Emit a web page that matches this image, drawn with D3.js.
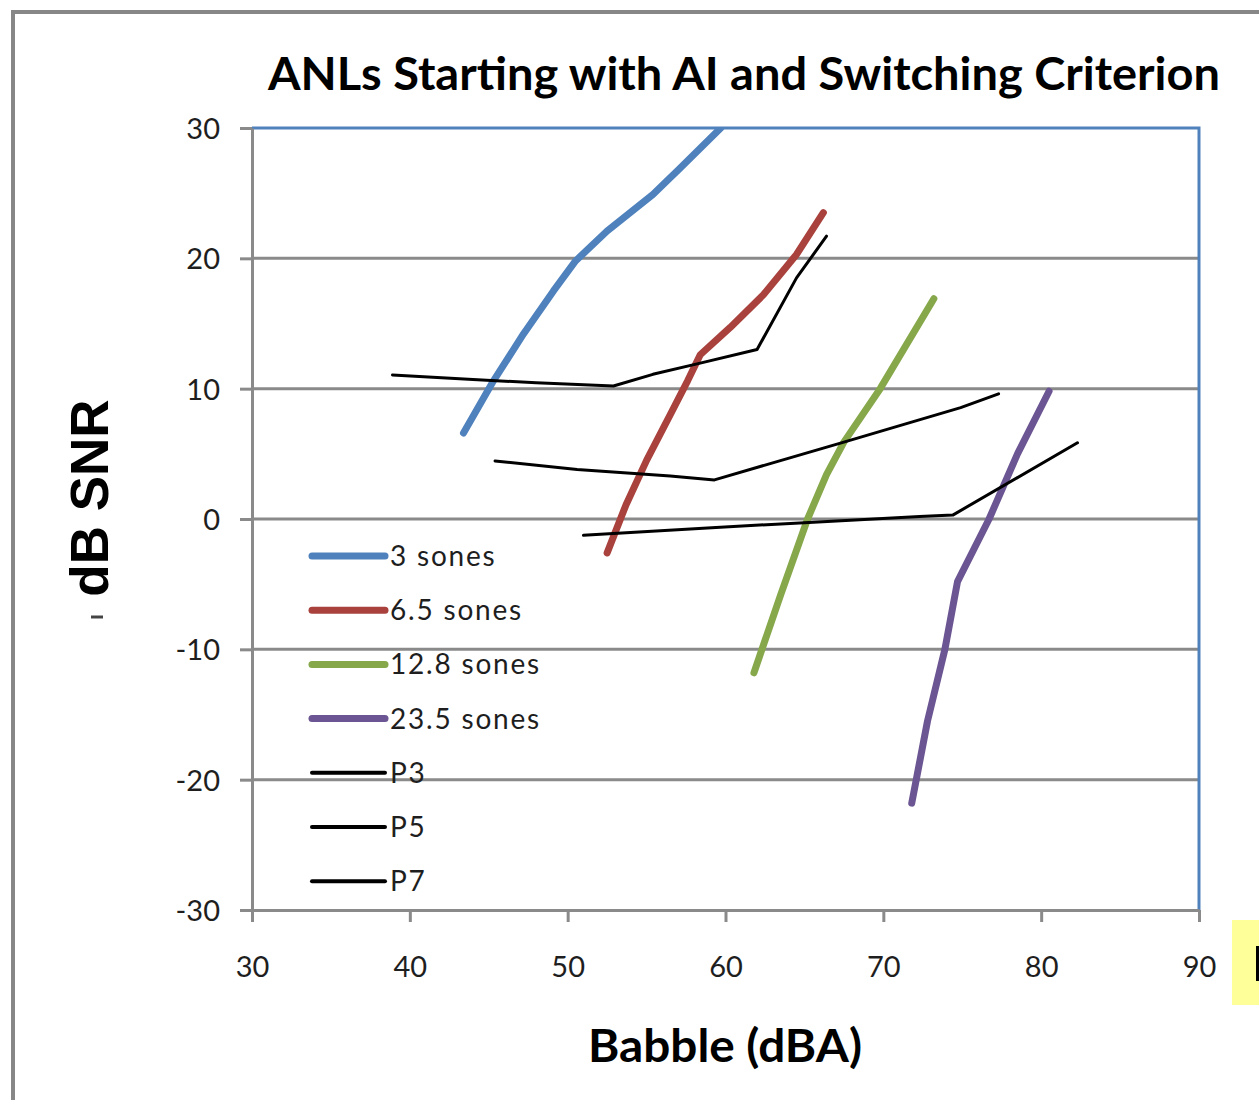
<!DOCTYPE html>
<html>
<head>
<meta charset="utf-8">
<script src="https://cdn.jsdelivr.net/npm/d3@7"></script>
<style>
body { margin: 0; background: #ffffff; }
svg { display: block; }
</style>
</head>
<body>
<svg id="chart"></svg>
<script>
let width = 1259;
let height = 1100;

let chart_title = "ANLs Starting with AI and Switching Criterion";
let x_title = "Babble (dBA)";
let y_title = "dB SNR";

let x_ticks = [30, 40, 50, 60, 70, 80, 90];
let y_ticks = [-30, -20, -10, 0, 10, 20, 30];

let series_names = ["3 sones", "6.5 sones", "12.8 sones", "23.5 sones", "P3", "P5", "P7"];
let series_colors = ["#4f81bd", "#a9413d", "#86a84a", "#6b5592", "#000000", "#000000", "#000000"];

// babble level (dBA) and SNR (dB)
let babble_3 = [43.4, 45.3, 47.2, 49.1, 50.5, 52.5, 55.4, 57.1, 59.7];
let snr_3 = [6.6, 10.6, 14.2, 17.5, 19.8, 22.1, 24.9, 26.9, 30];

let babble_6_5 = [52.5, 53.7, 55.0, 56.5, 57.6, 58.4, 60.3, 62.4, 64.5, 66.2];
let snr_6_5 = [-2.6, 1.1, 4.5, 8.0, 10.6, 12.6, 14.7, 17.2, 20.3, 23.5];

let babble_12_8 = [61.8, 63.5, 65.2, 66.4, 67.5, 69.8, 73.2];
let snr_12_8 = [-11.8, -5.8, 0, 3.4, 5.9, 10, 16.9];

let babble_23_5 = [71.8, 72.8, 73.9, 74.7, 76.7, 78.5, 80.5];
let snr_23_5 = [-21.8, -15.5, -10, -4.8, 0, 5, 9.8];

let babble_p3 = [38.9, 44.0, 48.0, 52.9, 55.4, 58.2, 62.0, 64.5, 66.4];
let snr_p3 = [11.05, 10.7, 10.45, 10.2, 11.1, 11.9, 13.0, 18.5, 21.7];

let babble_p5 = [45.4, 50.6, 56.5, 59.3, 67.5, 74.9, 77.3];
let snr_p5 = [4.45, 3.8, 3.3, 3.0, 5.9, 8.55, 9.6];

let babble_p7 = [51.0, 59.4, 64.7, 72.3, 74.4, 82.3];
let snr_p7 = [-1.25, -0.65, -0.3, 0.2, 0.3, 5.85];

let all_babble = [babble_3, babble_6_5, babble_12_8, babble_23_5, babble_p3, babble_p5, babble_p7];
let all_snr = [snr_3, snr_6_5, snr_12_8, snr_23_5, snr_p3, snr_p5, snr_p7];

let series = series_names.map(function (name, i) {
    return {
        name: name,
        color: series_colors[i],
        thick: i < 4,
        values: all_babble[i].map(function (b, j) { return {x: b, y: all_snr[i][j]}; })
    };
});

let plot_left = 252, plot_right = 1199, plot_top = 128, plot_bottom = 910;
let grid_color = "#8a8a8a";
let label_font = "Lato, 'Open Sans', sans-serif";

let svg = d3.select("#chart")
    .attr("width", width)
    .attr("height", height);

let x = d3.scaleLinear().domain([30, 90]).range([plot_left, plot_right]);
let y = d3.scaleLinear().domain([-30, 30]).range([plot_bottom, plot_top]);

// outer chart frame (cut by the picture edge)
svg.append("path")
    .attr("d", "M13," + height + " V12 H" + width)
    .attr("fill", "none")
    .attr("stroke", "#878787")
    .attr("stroke-width", 4);

// yellow note box peeking in at the right edge, only the stem of its first letter shows
svg.append("rect")
    .attr("x", 1232).attr("y", 920)
    .attr("width", 40).attr("height", 85)
    .attr("fill", "#ffff99");
svg.append("rect")
    .attr("x", 1256).attr("y", 946)
    .attr("width", 4).attr("height", 35)
    .attr("fill", "#000");

// horizontal gridlines
svg.append("g")
    .selectAll("line")
    .data(y_ticks.filter(function (d) { return d > -30 && d < 30; }))
    .enter().append("line")
    .attr("x1", plot_left).attr("x2", plot_right)
    .attr("y1", function (d) { return y(d); })
    .attr("y2", function (d) { return y(d); })
    .attr("stroke", grid_color)
    .attr("stroke-width", 3);

// plot area border, top and right
svg.append("path")
    .attr("d", "M" + plot_left + "," + y(30) + " H" + x(90) + " V" + plot_bottom)
    .attr("fill", "none")
    .attr("stroke", "#4f81bd")
    .attr("stroke-width", 3);

let plain = function (d) { return String(d); };

let x_axis = svg.append("g")
    .attr("transform", "translate(0," + plot_bottom + ")")
    .call(d3.axisBottom(x).tickValues(x_ticks).tickFormat(plain)
        .tickSize(12).tickSizeOuter(0).tickPadding(34));

let y_axis = svg.append("g")
    .attr("transform", "translate(" + plot_left + ",0)")
    .call(d3.axisLeft(y).tickValues(y_ticks).tickFormat(plain)
        .tickSize(12).tickSizeOuter(0).tickPadding(20));

[x_axis, y_axis].forEach(function (a) {
    a.select(".domain").attr("stroke", grid_color).attr("stroke-width", 3);
    a.selectAll(".tick line").attr("stroke", grid_color).attr("stroke-width", 3);
    a.selectAll(".tick text")
        .attr("fill", "#1e1e1e")
        .style("font-family", label_font)
        .style("font-size", "29px");
});
y_axis.selectAll(".tick text").attr("dy", "0.36em");

// data lines
svg.append("clipPath").attr("id", "plot_clip")
    .append("rect")
    .attr("x", plot_left).attr("y", plot_top - 1)
    .attr("width", plot_right - plot_left).attr("height", plot_bottom - plot_top + 1);

let line = d3.line()
    .x(function (d) { return x(d.x); })
    .y(function (d) { return y(d.y); });

svg.append("g")
    .attr("clip-path", "url(#plot_clip)")
    .selectAll("path")
    .data(series)
    .enter().append("path")
    .attr("d", function (d) { return line(d.values); })
    .attr("fill", "none")
    .attr("stroke", function (d) { return d.color; })
    .attr("stroke-width", function (d) { return d.thick ? 7 : 3; })
    .attr("stroke-linecap", "round")
    .attr("stroke-linejoin", "round");

// legend
let legend = svg.append("g")
    .selectAll("g")
    .data(series)
    .enter().append("g")
    .attr("transform", function (d, i) { return "translate(312," + (556 + i * 54.2) + ")"; });

legend.append("line")
    .attr("x1", 0).attr("x2", 73)
    .attr("stroke", function (d) { return d.color; })
    .attr("stroke-width", function (d) { return d.thick ? 7 : 4; })
    .attr("stroke-linecap", "round");

legend.append("text")
    .attr("x", 78)
    .attr("y", 10)
    .attr("fill", "#1e1e1e")
    .style("font-family", label_font)
    .style("font-size", "28px")
    .style("letter-spacing", "1.8px")
    .text(function (d) { return d.name; });

// titles
svg.append("text")
    .attr("x", 268).attr("y", 90)
    .attr("textLength", 952)
    .attr("lengthAdjust", "spacingAndGlyphs")
    .attr("fill", "#000")
    .style("font-family", label_font)
    .style("font-weight", "bold")
    .style("font-size", "45px")
    .text(chart_title);

svg.append("text")
    .attr("x", 588).attr("y", 1062)
    .attr("textLength", 274)
    .attr("lengthAdjust", "spacingAndGlyphs")
    .attr("fill", "#000")
    .style("font-family", label_font)
    .style("font-weight", "bold")
    .style("font-size", "45px")
    .text(x_title);

svg.append("text")
    .attr("transform", "translate(108,498) rotate(-90)")
    .attr("text-anchor", "middle")
    .attr("fill", "#000")
    .style("font-family", "'Liberation Sans', Arial, sans-serif")
    .style("font-weight", "bold")
    .style("font-size", "53px")
    .text(y_title);

// leftover bit of a clipped glyph below the y title
svg.append("line")
    .attr("x1", 91).attr("x2", 103)
    .attr("y1", 617).attr("y2", 617)
    .attr("stroke", "#444")
    .attr("stroke-width", 3);
</script>
</body>
</html>
